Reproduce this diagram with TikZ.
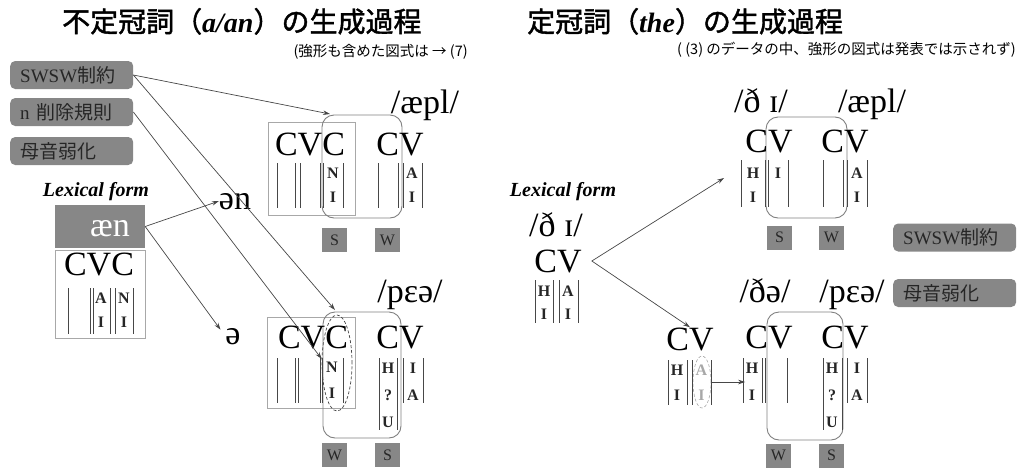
\documentclass[tikz,border=0pt]{standalone}
\usepackage{fontspec}
\setmainfont{Liberation Serif}
\newfontfamily\jpfont{Noto Sans CJK JP}[AutoFakeBold=1.5]
\usetikzlibrary{arrows.meta,shapes.geometric}

\begin{document}
\begin{tikzpicture}[x=1pt,y=-1pt,
    >={Stealth[length=7pt,width=4.5pt]},
    arr/.style={->,draw=kBar,line width=0.7pt},
    rulebox/.style={fill=kGrey,rounded corners=5pt,text=kText,
      text width=103pt,inner xsep=10pt,inner ysep=0pt,minimum height=28pt,
      align=left,anchor=west,font=\fontsize{19}{19}\selectfont},
    swbox/.style={fill=kGrey,text=kText,minimum width=25pt,minimum height=24pt,
      inner sep=0pt,font=\fontsize{16}{16}\selectfont},
    seg/.style={inner sep=0pt,anchor=base,font=\fontsize{34}{34}\selectfont},
    elem/.style={inner sep=0pt,font=\fontsize{16}{16}\selectfont\bfseries},
    bar/.style={draw=kBar,line width=0.8pt},
    frame/.style={draw=kLine,line width=0.8pt,inner sep=0pt},
    dom/.style={draw=kDom,rounded corners=12pt,line width=0.9pt,inner sep=0pt},
    lexlab/.style={inner sep=0pt,font=\fontsize{20}{20}\selectfont\bfseries\itshape},
    heading/.style={inner sep=0pt,anchor=base west,font=\jpfont\fontsize{28}{28}\selectfont\bfseries},
    note/.style={inner sep=0pt,anchor=base east,font=\jpfont\fontsize{14.5}{14.5}\selectfont},
  ]
  \definecolor{kGrey}{rgb}{0.53,0.53,0.53}
  \definecolor{kLine}{rgb}{0.66,0.66,0.66}
  \definecolor{kDom}{rgb}{0.5,0.5,0.5}
  \definecolor{kBar}{rgb}{0.28,0.28,0.28}
  \definecolor{kText}{rgb}{0.15,0.15,0.15}
  \useasboundingbox (0,0) rectangle (1017,469);

  % titles
  \node[heading] (ttlL) at (62,32) {不定冠詞（{\rmfamily\bfseries\itshape a/an}）の生成過程};
  \node[heading] (ttlR) at (527,32) {定冠詞（{\rmfamily\bfseries\itshape the}）の生成過程};
  \node[note] (subL) at (468,56) {(強形も含めた図式は → (7)};
  \node[note] (subR) at (1016,54) {( (3) のデータの中、強形の図式は発表では示されず)};

  % ---------------- a/an ----------------
  \node[rulebox] (swswL) at (10,75) {SWSW{\jpfont 制約}};
  \node[rulebox] (ndelL) at (10,112) {n {\jpfont 削除規則}};
  \node[rulebox] (vredL) at (10,151) {{\jpfont 母音弱化}};

  \node[lexlab] (lexlabL) at (96,192) {Lexical form};
  \node[fill=kGrey,minimum width=90pt,minimum height=43pt,inner sep=0pt] (aen) at (100,226.5) {};
  \node[seg,text=white] (aenT) at (110,236) {æn};
  \node[frame,minimum width=90pt,minimum height=88pt] (lexL) at (100,294) {};
  \node[seg] (cvcL) at (99,275) {CVC};

  \node[seg] (schwaN) at (235,209) {ən};
  \node[seg] (schwa) at (233,344) {ə};

  % upper form
  \node[frame,minimum width=87pt,minimum height=93pt] (sqA) at (311.5,168.5) {};
  \node[dom,minimum width=80pt,minimum height=103pt] (domA) at (362,166.5) {};
  \node[seg] (ipaA) at (425,113) {/æpl/};
  \node[seg] (cvcA) at (310,155) {CVC};
  \node[seg] (cvA) at (400,155) {CV};
  \node[swbox] (sA) at (334.5,240) {S};
  \node[swbox] (wA) at (387.5,240) {W};

  % lower form
  \node[frame,minimum width=88pt,minimum height=91pt] (sqB) at (311,362.5) {};
  \node[dom,minimum width=78pt,minimum height=126pt] (domB) at (362,375) {};
  \node[draw=kBar,densely dashed,ellipse,line width=0.7pt,minimum width=30pt,minimum height=96pt] (ellA) at (337,363) {};
  \node[seg] (ipaB) at (410,302) {/pɛə/};
  \node[seg] (cvcB) at (313,348) {CVC};
  \node[seg] (cvB) at (400,348) {CV};
  \node[swbox] (wB) at (334.5,455) {W};
  \node[swbox] (sB) at (387.5,455) {S};

  % ---------------- the ----------------
  \node[lexlab] (lexlabR) at (563,192) {Lexical form};
  \node[seg] (thiR) at (556,236) {/ð ɪ/};
  \node[seg] (cvR) at (558,272) {CV};

  \node[dom,minimum width=81pt,minimum height=101pt] (domC) at (806.5,167.5) {};
  \node[seg] (thiA) at (761,112) {/ð ɪ/};
  \node[seg] (appleR) at (872,112) {/æpl/};
  \node[seg] (cvC1) at (769,152) {CV};
  \node[seg] (cvC2) at (845,152) {CV};
  \node[swbox] (sC) at (779.5,237.5) {S};
  \node[swbox] (wC) at (831.5,237.5) {W};
  \node[rulebox] (swswR) at (893,237.5) {SWSW{\jpfont 制約}};

  \node[seg] (cvD) at (690,350) {CV};
  \node[draw=kLine,densely dashed,ellipse,line width=0.6pt,minimum width=18pt,minimum height=52pt] (ellB) at (702,382) {};

  \node[dom,minimum width=76pt,minimum height=128pt] (domE) at (805,376) {};
  \node[seg] (theB) at (765,302) {/ðə/};
  \node[seg] (pearR) at (852,302) {/pɛə/};
  \node[rulebox] (vredR) at (893,293) {{\jpfont 母音弱化}};
  \node[seg] (cvE1) at (769,348) {CV};
  \node[seg] (cvE2) at (845,348) {CV};
  \node[swbox] (wE) at (778.5,455.5) {W};
  \node[swbox] (sE) at (831.5,455.5) {S};

  % association lines
  \foreach \x in {277,295,300,320,323,343,378,398,403,422}
    \draw[bar] (\x,163) -- (\x,208);
  \foreach \x in {68,90,93,110,115,133}
    \draw[bar] (\x,288) -- (\x,334);
  \foreach \x in {277,295,298,320,322,343,403,423}
    \draw[bar] (\x,358) -- (\x,403);
  \foreach \x in {379,397}
    \draw[bar] (\x,358) -- (\x,430);
  \foreach \x in {535,553,559,578}
    \draw[bar] (\x,280) -- (\x,323);
  \foreach \x in {741,765,768,788,823,843,847,867}
    \draw[bar] (\x,160) -- (\x,207);
  \foreach \x in {668,687,692,711}
    \draw[bar] (\x,360) -- (\x,405);
  \foreach \x in {743,762,765,787,847,867}
    \draw[bar] (\x,358) -- (\x,403);
  \foreach \x in {823,842}
    \draw[bar] (\x,358) -- (\x,430);

  % elements
  \foreach \x/\y/\e in {333/173/N,333/197/I,412/173/A,412/197/I,
                        101/298/A,101/322/I,124/298/N,124/322/I,
                        332/367/N,332/393/I,388/368/H,388/395/?,388/422/U,413/368/I,413/395/A,
                        544/291/H,544/314/I,568/291/A,568/314/I,
                        753/173/H,753/197/I,778/173/I,857/173/A,857/197/I,
                        677/370/H,677/395/I,
                        752/368/H,752/395/I,832/368/H,832/395/?,832/422/U,857/368/I,857/395/A}
    \node[elem,text=kText] (e\x-\y) at (\x,\y) {\e};
  \node[elem,text=kLine] (fadeA) at (701.5,370) {A};
  \node[elem,text=kLine] (fadeI) at (701.5,395) {I};

  % arrows
  \coordinate (hitA) at (330,114);
  \coordinate (hitB) at (335,310);
  \coordinate (hitC) at (724,178);
  \draw[arr] (swswL.east) -- (hitA);
  \draw[arr] (swswL.east) -- (hitB);
  \draw[arr] (ndelL.east) -- (ellA.165);
  \draw[arr] (aen.east) -- (schwaN.west);
  \draw[arr,shorten >=8pt] (aen.east) -- (schwa.west);
  \draw[arr] ([xshift=10pt]cvR.east) -- (hitC);
  \draw[arr] ([xshift=10pt]cvR.east) -- (cvD.north);
  \draw[arr] (ellB.east) -- (ellB.east -| cvE1.west);
\end{tikzpicture}
\end{document}
